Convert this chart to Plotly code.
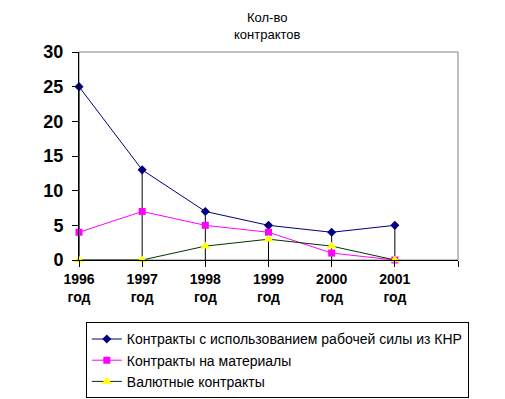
import plotly.graph_objects as go

years = ["1996<br>год", "1997<br>год", "1998<br>год", "1999<br>год", "2000<br>год", "2001<br>год"]
labor = [25, 13, 7, 5, 4, 5]
materials = [4, 7, 5, 4, 1, 0]
currency = [0, 0, 2, 3, 2, 0]
names = ["Контракты с использованием рабочей силы из КНР",
         "Контракты на материалы",
         "Валютные контракты"]

xs = list(range(len(years)))
font = "Liberation Sans, Arial, sans-serif"

fig = go.Figure()

# drop lines from the highest point of each category to the axis
dx, dy = [], []
for i in xs:
    top = max(labor[i], materials[i], currency[i])
    dx += [i, i, None]
    dy += [0, top, None]
fig.add_trace(go.Scatter(x=dx, y=dy, mode="lines", line=dict(color="black", width=1),
                         showlegend=False, hoverinfo="skip", cliponaxis=False))

fig.add_trace(go.Scatter(x=xs, y=labor, name=names[0], mode="lines+markers",
                         line=dict(color="#000080", width=1),
                         marker=dict(symbol="diamond", size=7, color="#000080"),
                         cliponaxis=False))
fig.add_trace(go.Scatter(x=xs, y=materials, name=names[1], mode="lines+markers",
                         line=dict(color="#FF00FF", width=1),
                         marker=dict(symbol="square", size=7, color="#FF00FF"),
                         cliponaxis=False))
fig.add_trace(go.Scatter(x=xs, y=currency, name=names[2], mode="lines+markers",
                         line=dict(color="#003300", width=1),
                         marker=dict(symbol="triangle-up", size=9, color="#FFFF00"),
                         cliponaxis=False))

fig.add_shape(type="rect", xref="paper", yref="paper", x0=0, x1=1, y0=0, y1=1,
              line=dict(color="#808080", width=1), layer="below")

fig.add_annotation(text="Кол-во<br>контрактов", xref="paper", yref="paper",
                   x=0.497, y=1, xanchor="center", yanchor="middle", yshift=26,
                   showarrow=False, font=dict(size=13, family=font, color="black"))

fig.update_layout(
    width=497, height=405,
    margin=dict(l=71, r=47, t=44, b=153),
    paper_bgcolor="white", plot_bgcolor="white",
    font=dict(family=font, color="black"),
    xaxis=dict(range=[0, 6], tickvals=list(range(7)), ticktext=years + [""],
               showgrid=False, zeroline=False, showline=True, linecolor="black", linewidth=1,
               ticks="outside", ticklen=6, tickcolor="black",
               tickfont=dict(size=14, family=font, color="black", weight="bold")),
    yaxis=dict(range=[0, 30], tickvals=[0, 5, 10, 15, 20, 25, 30],
               showgrid=False, zeroline=False, showline=True, linecolor="black", linewidth=1,
               ticks="outside", ticklen=6, tickcolor="black", ticklabelstandoff=5,
               tickfont=dict(size=18, family=font, color="black", weight="bold")),
    legend=dict(x=0.018, y=-0.3, xanchor="left", yanchor="top",
                bordercolor="black", borderwidth=1, bgcolor="white",
                font=dict(size=14, family=font, color="black"),
                itemwidth=30, tracegroupgap=0),
    showlegend=True,
)

fig.write_html("out.html")
